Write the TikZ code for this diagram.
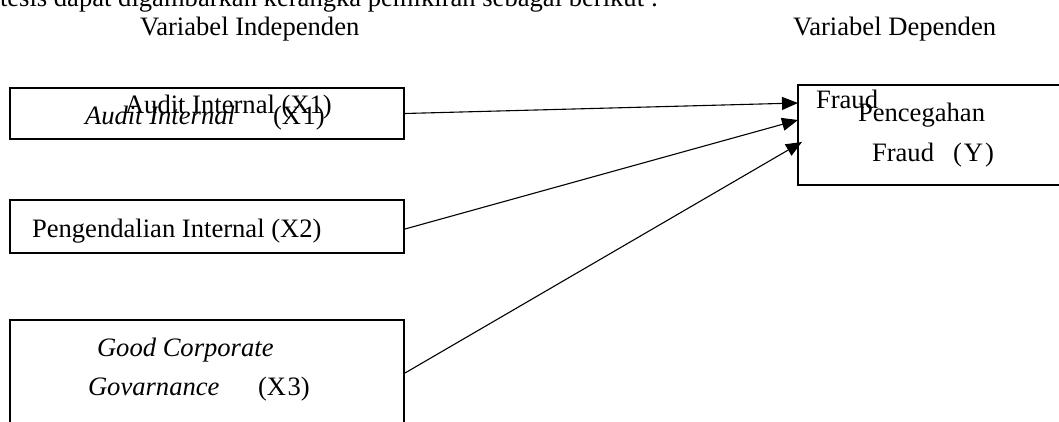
\documentclass[tikz,border=0pt]{standalone}
\usepackage{fontspec}
\setmainfont{Liberation Serif}
\usetikzlibrary{arrows.meta,calc}
\begin{document}
\begin{tikzpicture}[x=1pt,y=-1pt,
  every node/.style={font=\fontsize{26.6}{32}\selectfont, inner sep=0pt, outer sep=0pt},
  varbox/.style={draw, line width=2pt, rectangle},
  txt/.style={anchor=base west},
  link/.style={line width=1.1pt, -{Triangle[length=16pt,width=13pt]}}]
  \useasboundingbox (0,0) rectangle (1059,422);
  \clip (0,0) rectangle (1059,422);

  % heading lines
  \node[txt] (intro) at (0,7) {tesis dapat digambarkan kerangka pemikiran sebagai berikut :};
  \node[txt] (indep) at (140,36) {Variabel Independen};
  \node[txt] (dep) at (793,36) {Variabel Dependen};

  % independent variables
  \node[varbox, minimum width=394pt, minimum height=51pt] (x1) at (207,113.5) {};
  \node[txt] (x1a) at (125,113.5) {Audit Internal (X1)};
  \node[txt] (x1b) at (85,125) {\itshape Audit Internal};
  \node[txt] (x1c) at (273,125) {(X\kern1.5pt 1)};

  \node[varbox, minimum width=394pt, minimum height=53pt] (x2) at (207,226.5) {};
  \node[txt] (x2a) at (32,237) {Pengendalian Internal (X2)};

  \node[varbox, minimum width=394pt, minimum height=160pt] (x3) at (207,400) {};
  \node[txt] (x3a) at (97,356) {\itshape Good Corporate};
  \node[txt] (x3b) at (88,395) {\itshape Govarnance};
  \node[txt] (x3c) at (258,395) {(X\kern1.5pt 3)};

  % dependent variable
  \node[varbox, minimum width=360pt, minimum height=100pt] (y) at (978,135) {};
  \node[txt] (ya) at (816,109) {Fraud};
  \node[txt] (yb) at (858,122) {Pencegahan};
  \node[txt] (yc) at (872,162) {Fraud};
  \node[txt] (yd) at (953,162) {(\kern2pt Y\kern2pt)};

  % connector ends
  \coordinate (s1) at ($(x1.east)+(1,0)$);
  \coordinate (s2) at ($(x2.north east)+(1,29)$);
  \coordinate (s3) at ($(x3.north east)+(1,53)$);
  \coordinate (t1) at ($(y.north west)+(0,18)$);
  \coordinate (t2) at ($(y.north west)+(0,35)$);
  \coordinate (t3) at ($(y.north west)+(4,57)$);

  \draw[link] (s1) -- (t1);
  \draw[link] (s2) -- (t2);
  \draw[link] (s3) -- (t3);
\end{tikzpicture}
\end{document}
